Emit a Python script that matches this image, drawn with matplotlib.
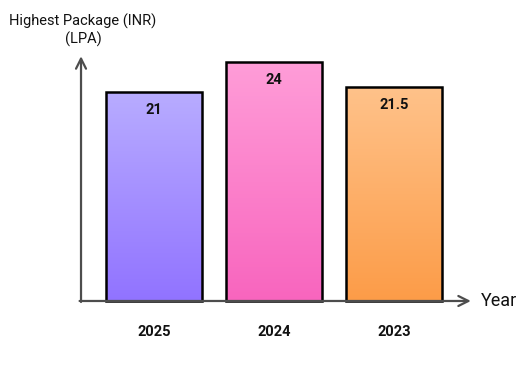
import numpy as np
import matplotlib
matplotlib.use('Agg')
from matplotlib import pyplot as plt
from matplotlib.colors import LinearSegmentedColormap

plt.rcParams['font.family'] = ['Roboto', 'DejaVu Sans']

years = ['2025', '2024', '2023']
package = [21, 24, 21.5]
labels = ['21', '24', '21.5']
top_colors = ['#b8acff', '#ff9dd8', '#ffc28a']
bottom_colors = ['#9173ff', '#f865be', '#fc9c48']

fig = plt.figure(figsize=(5.24, 3.78), dpi=100)
ax = fig.add_axes([0, 0, 1, 1])
ax.axis('off')

x = np.arange(len(years))
bars = ax.bar(x, package, width=0.8, facecolor='none', edgecolor='black',
              linewidth=1.8, zorder=3)

grad = np.linspace(0, 1, 256).reshape(-1, 1)
for i, b in enumerate(bars):
    cmap = LinearSegmentedColormap.from_list('g', [bottom_colors[i], top_colors[i]])
    x0 = b.get_x()
    im = ax.imshow(grad, cmap=cmap, origin='lower', aspect='auto',
                   extent=[x0, x0 + b.get_width(), 0, b.get_height()], zorder=2)
    im.set_clip_path(b)
    ax.text(x[i], package[i] - 1.8, labels[i], ha='center', va='center',
            fontsize=10.5, fontweight='bold', color='#111111', zorder=4)
    ax.text(x[i], -3.1, years[i], ha='center', va='center',
            fontsize=10.5, fontweight='bold', color='#111111')

ax.set_xlim(-1.283, 3.083)
ax.set_ylim(-7.74, 30.25)

# axes with arrows
axcol = '#4d4d4d'
ax.annotate('', xy=(-0.608, 24.6), xytext=(-0.608, -0.1),
            arrowprops=dict(arrowstyle='->', color=axcol, lw=1.6,
                            mutation_scale=18, shrinkA=0, shrinkB=0))
ax.annotate('', xy=(2.64, 0), xytext=(-0.62, 0),
            arrowprops=dict(arrowstyle='->', color=axcol, lw=1.6,
                            mutation_scale=18, shrinkA=0, shrinkB=0))

ax.text(-0.592, 27.2, 'Highest Package (INR)\n(LPA)', ha='center', va='center',
        fontsize=10.5, color='#111111', linespacing=1.25)
ax.text(2.72, 0, 'Year', ha='left', va='center', fontsize=13, color='#111111')

fig.savefig('out.png', dpi=100)
